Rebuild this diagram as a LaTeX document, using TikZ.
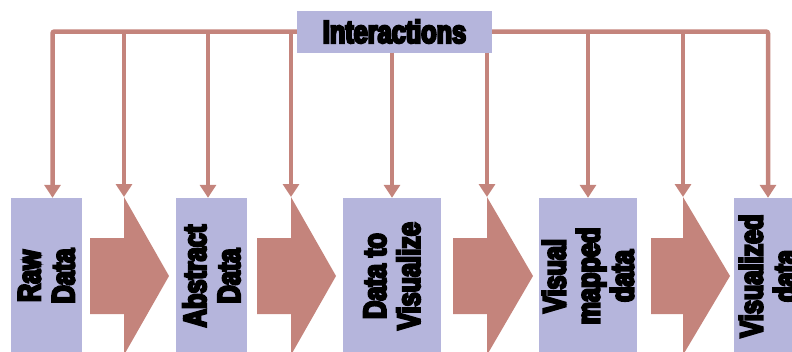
\documentclass[tikz,border=0pt]{standalone}
\usepackage{fontspec}
\usetikzlibrary{arrows.meta}
\newfontfamily\cond[FakeStretch=0.79,FakeBold=7]{Liberation Sans Bold}
\definecolor{lav}{RGB}{181,181,220}
\definecolor{rose}{RGB}{196,132,124}
\tikzset{
  box/.style={fill=lav, draw=none, rotate=90, inner sep=0pt, align=center,
    font=\cond\fontsize{32}{34}\selectfont, minimum height=71pt, minimum width=156pt},
  conn/.style={draw=rose, line width=4.5pt, rounded corners=2pt,
    -{Triangle[width=16pt,length=13pt]}},
  blockarrow/.style={fill=rose, draw=none}
}
\begin{document}
\begin{tikzpicture}[x=1pt,y=-1pt]
\useasboundingbox (0,0) rectangle (792,351);
\clip (0,0) rectangle (792,351);
% boxes
\node[box] (raw) at (46.5,276) {Raw\\Data};
\node[box] (abs) at (211.5,276) {Abstract\\Data};
\node[box, minimum height=98pt] (dtv) at (392,276) {Data to\\Visualize};
\node[box, minimum height=98pt] (vmd) at (588,276) {Visual\\mapped\\data};
\node[box, minimum height=68pt] (viz) at (768,276) {Visualized\\data};
% block arrows
\fill[blockarrow] (90,238) -- (124,238) -- (124,197) -- (169,276) -- (124,355) -- (124,314) -- (90,314) -- cycle;
\coordinate (t1) at (124,197);
\fill[blockarrow] (257,238) -- (291,238) -- (291,197) -- (336,276) -- (291,355) -- (291,314) -- (257,314) -- cycle;
\coordinate (t2) at (291,197);
\fill[blockarrow] (453,238) -- (487,238) -- (487,197) -- (533,276) -- (487,355) -- (487,314) -- (453,314) -- cycle;
\coordinate (t3) at (487,197);
\fill[blockarrow] (651,238) -- (683,238) -- (683,197) -- (730,276) -- (683,355) -- (683,314) -- (651,314) -- cycle;
\coordinate (t4) at (683,197);
% box top entry points
\coordinate (rawin) at ([xshift=6pt]raw.east);
\coordinate (absin) at ([xshift=-3.5pt]abs.east);
% interactions
\node[fill=lav, minimum width=195pt, minimum height=42pt, inner sep=0pt,
  font=\cond\fontsize{32}{34}\selectfont] (inter) at (394.5,31.5) {Interactions};
% connectors
\draw[conn] (inter.west) -| (rawin);
\draw[conn] (t1 |- inter.west) -- (t1);
\draw[conn] (absin |- inter.west) -- (absin);
\draw[conn] (t2 |- inter.west) -- (t2);
\draw[conn] (dtv.east |- inter.south) -- (dtv.east);
\draw[conn] (t3 |- inter.south) -- (t3);
\draw[conn] (inter.east) -| (viz.east);
\draw[conn] (vmd.east |- inter.east) -- (vmd.east);
\draw[conn] (t4 |- inter.east) -- (t4);
\end{tikzpicture}
\end{document}
